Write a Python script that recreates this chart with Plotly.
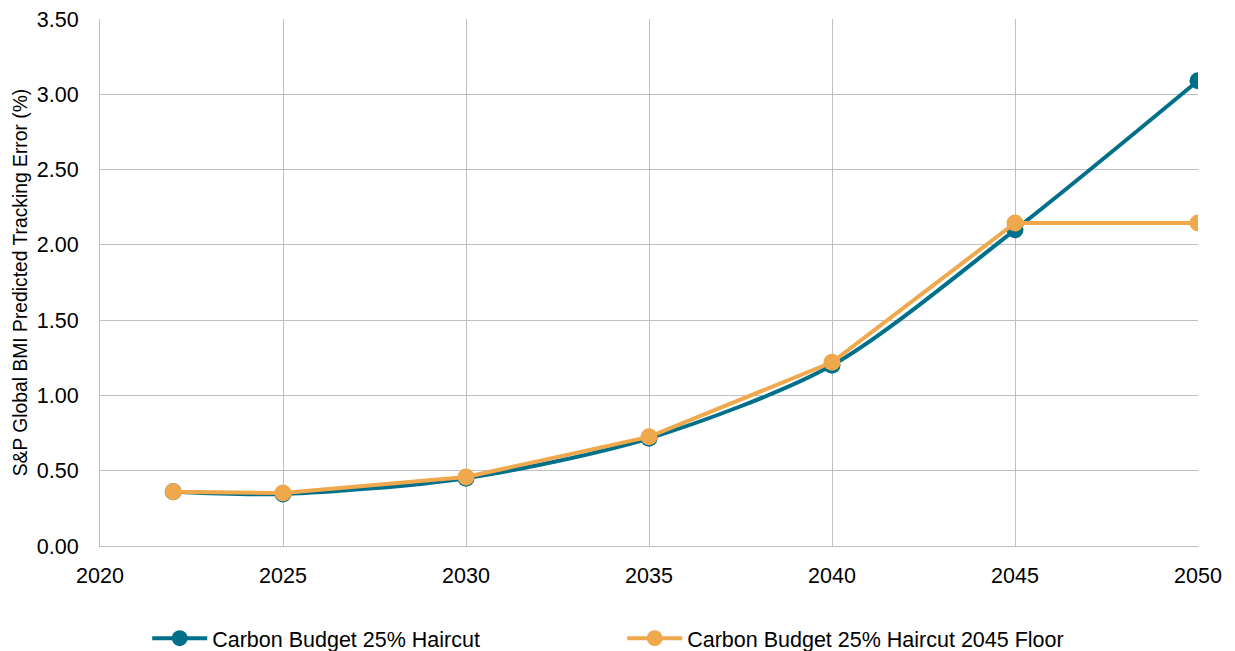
import plotly.graph_objects as go

# Projection years and predicted tracking error (%) for each scenario
years = [2022, 2025, 2030, 2035, 2040, 2045, 2050]
haircut = [0.36, 0.345, 0.45, 0.715, 1.20, 2.10, 3.09]
haircut_floor = [0.36, 0.352, 0.458, 0.725, 1.22, 2.145, 2.145]

x_ticks = [2020, 2025, 2030, 2035, 2040, 2045, 2050]
y_ticks = [0.0, 0.5, 1.0, 1.5, 2.0, 2.5, 3.0, 3.5]

TEAL = "#00708A"
ORANGE = "#F0A84C"
GRID = "#BFBFBF"
FONT = "Liberation Sans, Arial, sans-serif"

fig = go.Figure()
fig.add_trace(go.Scatter(
    x=years, y=haircut, name="Carbon Budget 25% Haircut",
    mode="lines+markers",
    line=dict(color=TEAL, width=4, shape="spline", smoothing=0.8),
    marker=dict(color=TEAL, size=17),
))
fig.add_trace(go.Scatter(
    x=years, y=haircut_floor, name="Carbon Budget 25% Haircut 2045 Floor",
    mode="lines+markers",
    line=dict(color=ORANGE, width=4),
    marker=dict(color=ORANGE, size=17),
))

fig.update_layout(
    width=1235, height=651,
    margin=dict(l=100, r=37, t=19, b=105, autoexpand=False),
    paper_bgcolor="white", plot_bgcolor="white",
    font=dict(family=FONT, size=21, color="#000000"),
    showlegend=True,
    legend=dict(
        orientation="h", x=0.043, xanchor="left", y=-0.175, yanchor="middle",
        font=dict(size=21.5), entrywidth=405, entrywidthmode="pixels",
        itemwidth=55, bgcolor="rgba(0,0,0,0)",
    ),
)

fig.update_xaxes(
    range=[2020, 2050], tickvals=x_ticks,
    showgrid=True, gridcolor=GRID, gridwidth=1,
    showline=True, linecolor=GRID, linewidth=1, mirror=False,
    ticks="outside", ticklen=10, tickcolor="rgba(0,0,0,0)",
    zeroline=False, tickfont=dict(size=21.5),
)
fig.update_yaxes(
    range=[0, 3.5], tickvals=y_ticks, tickformat=".2f",
    showgrid=True, gridcolor=GRID, gridwidth=1,
    showline=True, linecolor=GRID, linewidth=1,
    ticks="outside", ticklen=16, tickcolor="rgba(0,0,0,0)",
    zeroline=False, tickfont=dict(size=21.5),
    title=dict(text="S&P Global BMI Predicted Tracking Error (%)",
               font=dict(size=19.3), standoff=4),
)

fig.write_html("out.html")
